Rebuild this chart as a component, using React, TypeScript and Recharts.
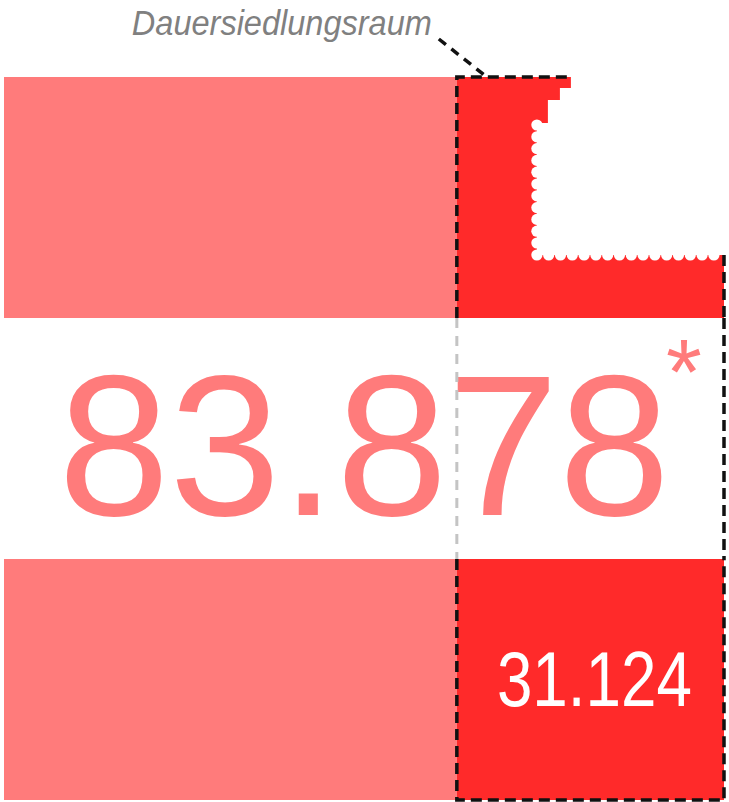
import React from 'react';
import { BarChart, Bar, XAxis, YAxis, Cell } from 'recharts';

// Fläche Österreichs in km²
const TOTAL_KM2 = 83878;
// Dauersiedlungsraum in km²
const DSR_KM2 = 31124;
// Flaggenstreifen (Kategorien)
const STRIPES = ['oben', 'mitte', 'unten'];
const TITLE = 'Dauersiedlungsraum';
const TOTAL_LABEL = '83.878';
const DSR_LABEL = '31.124';
const FOOTNOTE = '*';

const LIGHT = '#FF7B7B';
const DARK = '#FF2A2A';
const FONT = '"Liberation Sans", Arial, Helvetica, sans-serif';

const data = STRIPES.map((row) => ({
  row,
  rest: TOTAL_KM2 - DSR_KM2,
  dsr: DSR_KM2,
}));

const dash = { stroke: '#111', strokeWidth: 3.5, strokeDasharray: '11 6', fill: 'none' } as const;

function RestShape(props: any) {
  const { x, y, width: w, height: h, payload } = props;
  if (payload.row === 'mitte') {
    const full = (w * TOTAL_KM2) / (TOTAL_KM2 - DSR_KM2);
    const cx = x + full / 2;
    return (
      <g>
        <text x={cx} y={y + 197} textAnchor="middle" fontFamily={FONT} fontSize={200} fill={LIGHT}>
          {TOTAL_LABEL}
        </text>
        <text x={cx + 302} y={y + 86} fontFamily={FONT} fontSize={92} fill={LIGHT}>
          {FOOTNOTE}
        </text>
      </g>
    );
  }
  return <rect x={x} y={y} width={w} height={h} fill={LIGHT} />;
}

function DsrShape(props: any) {
  const { x, y, width: w, height: h, payload } = props;
  if (payload.row === 'oben') {
    const X = (f: number) => x + f * w;
    const Y = (f: number) => y + f * h;
    const cutX = 80 / 267;
    const cutY = 178 / 241;
    const d = [
      `M ${x} ${y}`,
      `L ${X(114 / 267)} ${y}`,
      `L ${X(114 / 267)} ${Y(11 / 241)}`,
      `L ${X(103 / 267)} ${Y(11 / 241)}`,
      `L ${X(103 / 267)} ${Y(23 / 241)}`,
      `L ${X(91 / 267)} ${Y(23 / 241)}`,
      `L ${X(91 / 267)} ${Y(46 / 241)}`,
      `L ${X(cutX)} ${Y(46 / 241)}`,
      `L ${X(cutX)} ${Y(cutY)}`,
      `L ${x + w} ${Y(cutY)}`,
      `L ${x + w} ${y + h}`,
      `L ${x} ${y + h}`,
      'Z',
    ].join(' ');
    const circles: React.ReactNode[] = [];
    const step = 11.8;
    const r = 5.6;
    const y0 = Y(46 / 241) + 2;
    const yb = Y(cutY);
    for (let cy = y0; cy < yb - 3; cy += step) {
      circles.push(<circle key={'v' + cy} cx={X(cutX)} cy={cy} r={r} fill="#fff" />);
    }
    for (let cx = X(cutX); cx < x + w - 3; cx += step) {
      circles.push(<circle key={'h' + cx} cx={cx} cy={yb} r={r} fill="#fff" />);
    }
    return (
      <g>
        <path d={d} fill={DARK} />
        {circles}
        <path d={`M ${x} ${y + h} L ${x} ${y} L ${X(114 / 267)} ${y}`} {...dash} />
        <path d={`M ${x + w} ${yb} L ${x + w} ${y + h}`} {...dash} />
        <path d={`M ${x - 18} ${y - 38} L ${x + 30} ${y}`} {...dash} strokeDasharray="9 7" />
        <text
          x={x - 325}
          y={y - 42}
          fontFamily={FONT}
          fontStyle="italic"
          fontSize={35}
          fill="#808080"
          textLength={300}
          lengthAdjust="spacingAndGlyphs"
        >
          {TITLE}
        </text>
      </g>
    );
  }
  if (payload.row === 'mitte') {
    return (
      <g>
        <path d={`M ${x} ${y} L ${x} ${y + h}`} stroke="#c4c4c4" strokeWidth={3} strokeDasharray="10 8" fill="none" />
        <path d={`M ${x + w} ${y} L ${x + w} ${y + h}`} {...dash} />
      </g>
    );
  }
  return (
    <g>
      <rect x={x} y={y} width={w} height={h} fill={DARK} />
      <path d={`M ${x} ${y} L ${x} ${y + h} L ${x + w} ${y + h} L ${x + w} ${y}`} {...dash} />
      <text
        x={x + w / 2 + 4}
        y={y + 147}
        textAnchor="middle"
        fontFamily={FONT}
        fontSize={77}
        fill="#fff"
        textLength={195}
        lengthAdjust="spacingAndGlyphs"
      >
        {DSR_LABEL}
      </text>
    </g>
  );
}

export default function App() {
  return (
    <div style={{ position: 'absolute', left: 0, top: 0, background: '#fff' }}>
      <BarChart
        width={729}
        height={802}
        data={data}
        layout="vertical"
        margin={{ top: 77, right: 5, bottom: 2, left: 4 }}
        barCategoryGap={0}
        barGap={0}
      >
        <XAxis type="number" hide domain={[0, TOTAL_KM2]} />
        <YAxis type="category" dataKey="row" hide />
        <Bar dataKey="rest" stackId="a" isAnimationActive={false} shape={RestShape}>
          {data.map((d) => (
            <Cell key={d.row} fill={LIGHT} />
          ))}
        </Bar>
        <Bar dataKey="dsr" stackId="a" isAnimationActive={false} shape={DsrShape}>
          {data.map((d) => (
            <Cell key={d.row} fill={DARK} />
          ))}
        </Bar>
      </BarChart>
    </div>
  );
}
